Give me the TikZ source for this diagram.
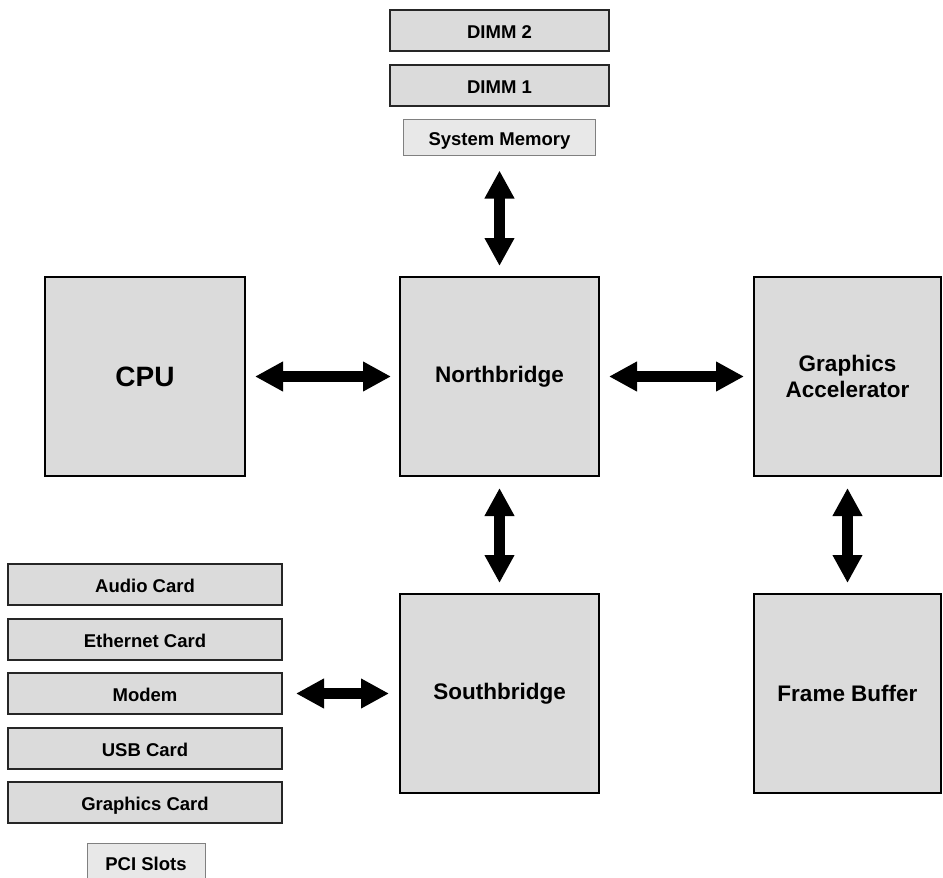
\documentclass[tikz,border=0pt]{standalone}
\usepackage{fontspec}
\setmainfont{Liberation Sans}
\usetikzlibrary{arrows.meta}

\begin{document}
\begin{tikzpicture}[x=1pt,y=-1pt,
	chip/.style={draw=black,line width=2pt,fill=black!14,font=\bfseries\fontsize{22.5}{26}\selectfont,align=center,inner sep=0pt,minimum width=199pt,minimum height=199pt},
	slot/.style={draw=black!85,line width=2pt,fill=black!14,font=\bfseries\fontsize{18.5}{22}\selectfont,inner sep=0pt,text height=16pt,text depth=0pt,minimum height=41pt},
	caption/.style={draw=black!50,line width=1pt,fill=black!9,font=\bfseries\fontsize{18.5}{22}\selectfont,inner sep=0pt,text height=16pt,text depth=0pt,minimum height=36pt},
	bus/.style={line width=10.5pt,{Triangle[length=28pt,width=28pt]}-{Triangle[length=28pt,width=28pt]}}]
	\useasboundingbox (0,0) rectangle (943,878);
	%\draw[help lines] (0,0) grid (943,878);

	%MEMORY
	\node[slot,minimum width=219pt] (dimmtwo) at (499.5,30.5) {DIMM 2};
	\node[slot,minimum width=219pt] (dimmone) at (499.5,85.5) {DIMM 1};
	\node[caption,minimum width=192pt] (sysmem) at (499.5,137) {System Memory};

	%CHIPS
	\node[chip,minimum width=200pt,font=\bfseries\fontsize{28}{32}\selectfont] (cpu) at (145,376.5) {CPU};
	\node[chip] (north) at (499.5,376.5) {Northbridge};
	\node[chip,minimum width=187pt] (gfx) at (847.5,376.5) {Graphics\\Accelerator};
	\node[chip] (south) at (499.5,693.5) {Southbridge};
	\node[chip,minimum width=187pt] (fbuf) at (847.5,693.5) {Frame Buffer};

	%PCI
	\node[slot,minimum width=274pt] (audio) at (145,584.5) {Audio Card};
	\node[slot,minimum width=274pt] (ether) at (145,639) {Ethernet Card};
	\node[slot,minimum width=274pt] (modem) at (145,693.5) {Modem};
	\node[slot,minimum width=274pt] (usb) at (145,748) {USB Card};
	\node[slot,minimum width=274pt] (gcard) at (145,802.5) {Graphics Card};
	\node[caption,minimum width=118pt,minimum height=38pt] (pci) at (146,862) {PCI Slots};

	%BUSES
	\draw[bus,shorten <=15pt,shorten >=10pt] (sysmem) -- (north);
	\draw[bus,shorten <=9pt,shorten >=8pt] (cpu) -- (north);
	\draw[bus,shorten <=9pt,shorten >=9pt] (north) -- (gfx);
	\draw[bus,shorten <=11pt,shorten >=10pt] (north) -- (south);
	\draw[bus,shorten <=11pt,shorten >=10pt] (gfx) -- (fbuf);
	\draw[bus,shorten <=13pt,shorten >=10pt] (modem) -- (south);
\end{tikzpicture}
\end{document}
